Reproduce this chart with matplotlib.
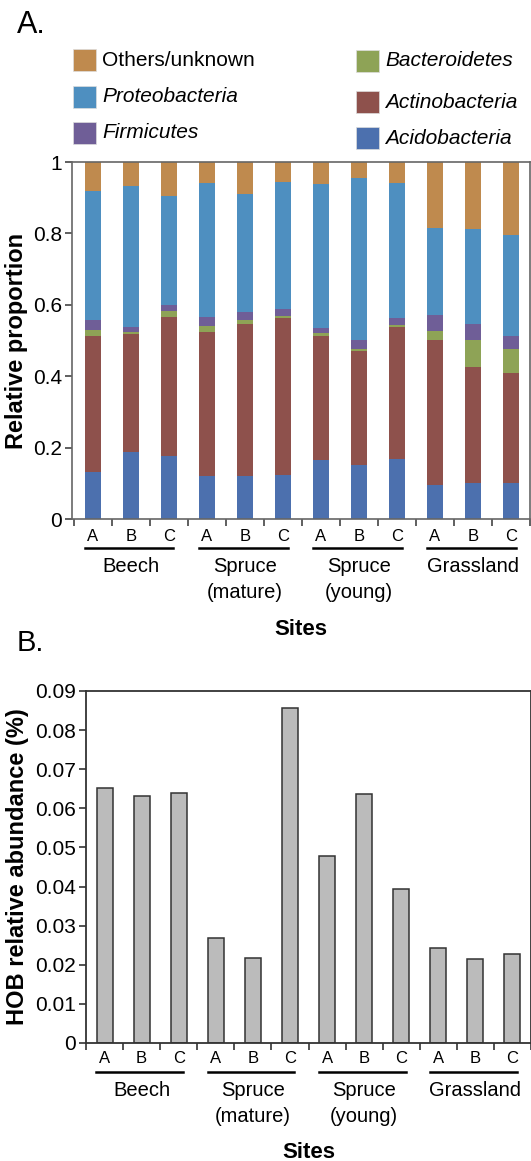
import matplotlib
matplotlib.use('Agg')
import matplotlib.pyplot as plt
import numpy as np
from matplotlib.patches import Rectangle
from matplotlib.transforms import blended_transform_factory

plt.rcParams['font.family'] = ['Liberation Sans', 'DejaVu Sans']

# Datos
sites = ['A', 'B', 'C'] * 4
groups = ['Beech', 'Spruce\n(mature)', 'Spruce\n(young)', 'Grassland']

acidobacteria = [0.133, 0.188, 0.176, 0.120, 0.121, 0.123, 0.164, 0.151, 0.168, 0.094, 0.100, 0.100]
actinobacteria = [0.380, 0.330, 0.391, 0.403, 0.425, 0.440, 0.348, 0.319, 0.371, 0.407, 0.326, 0.308]
bacteroidetes = [0.017, 0.007, 0.016, 0.018, 0.011, 0.007, 0.009, 0.007, 0.004, 0.025, 0.075, 0.068]
firmicutes = [0.027, 0.012, 0.016, 0.024, 0.022, 0.018, 0.014, 0.024, 0.020, 0.045, 0.045, 0.036]
proteobacteria = [0.362, 0.396, 0.306, 0.375, 0.331, 0.355, 0.403, 0.455, 0.377, 0.244, 0.266, 0.283]
others = [0.081, 0.067, 0.095, 0.060, 0.090, 0.057, 0.062, 0.044, 0.060, 0.185, 0.188, 0.205]

hob = [0.0651, 0.0632, 0.0639, 0.0268, 0.0218, 0.0857, 0.0478, 0.0637, 0.0395, 0.0242, 0.0215, 0.0227]

phyla = ['Acidobacteria', 'Actinobacteria', 'Bacteroidetes', 'Firmicutes', 'Proteobacteria', 'Others/unknown']
colors = ['#4C70AE', '#8E514C', '#8EA356', '#6F5E97', '#4E8FC0', '#BF8A4E']

W, H = 531, 1161
fig = plt.figure(figsize=(W / 100, H / 100), dpi=100)


def fx(px):
    return px / W


def fy(py):
    return 1 - py / H


x = np.arange(len(sites))

# ---------------- Panel A ----------------
axA = fig.add_axes([fx(72), fy(519), fx(530 - 72), (519 - 162) / H])
bottom = np.zeros(len(sites))
for vals, c in zip([acidobacteria, actinobacteria, bacteroidetes, firmicutes, proteobacteria, others], colors):
    axA.bar(x, vals, width=0.4, bottom=bottom, color=c, edgecolor='none')
    bottom += np.array(vals)

axA.set_xlim(-0.55, 11.47)
axA.set_ylim(0, 1)
axA.set_yticks([0, 0.2, 0.4, 0.6, 0.8, 1])
axA.set_yticklabels(['0', '0.2', '0.4', '0.6', '0.8', '1'], fontsize=15)
axA.set_xticks(np.arange(-0.5, 12, 1))
axA.set_xticklabels([])
for s in axA.spines.values():
    s.set_color('#666666')
    s.set_linewidth(1.2)
axA.tick_params(axis='both', direction='out', color='#444444', length=5, width=1.2, pad=2)
axA.set_ylabel('Relative proportion', fontsize=17, fontweight='bold')
axA.yaxis.set_label_coords((28 - 72) / (530 - 72), 0.5)

# ---------------- Panel B ----------------
axB = fig.add_axes([fx(86), fy(1043), fx(531 - 86), (1043 - 691) / H])
axB.bar(x, hob, width=0.43, color='#BBBBBB', edgecolor='#333333', linewidth=1.1)
axB.set_xlim(-0.5, 11.5)
axB.set_ylim(0, 0.09)
axB.set_yticks(np.arange(0, 0.0901, 0.01))
axB.set_yticklabels(['0'] + ['%.2f' % v for v in np.arange(0.01, 0.0901, 0.01)], fontsize=15)
axB.set_xticks(np.arange(-0.5, 12, 1))
axB.set_xticklabels([])
for s in axB.spines.values():
    s.set_color('#333333')
    s.set_linewidth(1.3)
axB.tick_params(axis='both', direction='out', color='#333333', length=5, width=1.2, pad=2)
axB.set_ylabel('HOB relative abundance (%)', fontsize=17, fontweight='bold')
axB.yaxis.set_label_coords((29 - 86) / (531 - 86), 0.5)


# Etiquetas de sitio y grupo
def site_labels(ax, y_abc, y_line, y_name, y_sites):
    tr = blended_transform_factory(ax.transData, fig.transFigure)
    for i, s in enumerate(sites):
        fig.text(x[i], fy(y_abc), s, transform=tr, ha='center', va='baseline', fontsize=12)
    for g, name in enumerate(groups):
        i0 = 3 * g
        fig.add_artist(plt.Line2D([i0 - 0.22, i0 + 2.12], [fy(y_line), fy(y_line)],
                                  transform=tr, color='black', lw=1.8))
        for k, line in enumerate(name.split('\n')):
            fig.text(i0 + 1, fy(y_name + 26 * k), line, transform=tr, ha='center',
                     va='baseline', fontsize=14.5)
    trs = blended_transform_factory(ax.transAxes, fig.transFigure)
    fig.text(0.5, fy(y_sites), 'Sites', transform=trs, ha='center', va='baseline',
             fontsize=16, fontweight='bold')


site_labels(axA, 541, 548, 572, 635)
site_labels(axB, 1063, 1072, 1096, 1158)

# Titulos de panel
fig.text(fx(17), fy(33), 'A.', fontsize=22, va='baseline', ha='left')
fig.text(fx(17), fy(651), 'B.', fontsize=21, va='baseline', ha='left')

# Leyenda manual
legend_items = [
    ('Others/unknown', colors[5], False, 73, 60),
    ('Proteobacteria', colors[4], True, 73, 97),
    ('Firmicutes', colors[3], True, 73, 133),
    ('Bacteroidetes', colors[2], True, 356, 61),
    ('Actinobacteria', colors[1], True, 356, 102),
    ('Acidobacteria', colors[0], True, 356, 138),
]
for label, c, ital, px, py in legend_items:
    fig.add_artist(Rectangle((fx(px), fy(py + 11)), fx(23), 22 / H, facecolor=c,
                             edgecolor='#dddddd', linewidth=0.5, transform=fig.transFigure))
    fig.text(fx(px + 29), fy(py), label, fontsize=15, va='center', ha='left',
             style='italic' if ital else 'normal')

fig.savefig('out.png', dpi=100)
